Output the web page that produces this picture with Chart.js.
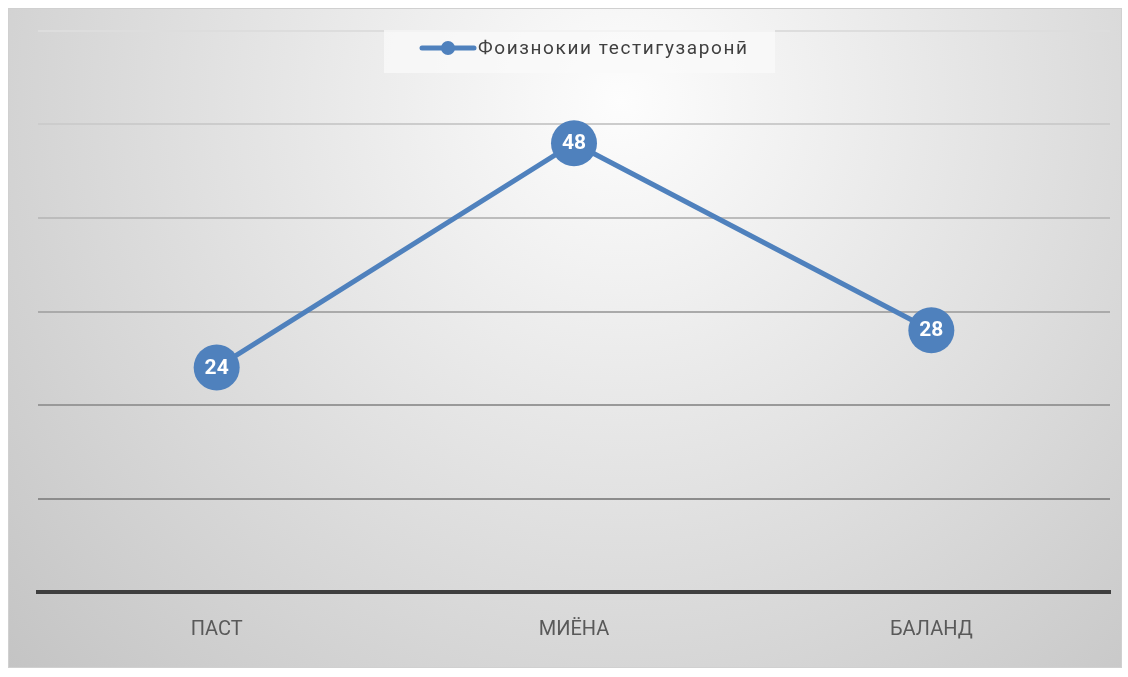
<!DOCTYPE html>
<html>
<head>
<meta charset="utf-8">
<script src="https://cdn.jsdelivr.net/npm/chart.js@4.4.1/dist/chart.umd.min.js"></script>
<style>
  html, body { margin: 0; padding: 0; background: #fff; }
  #wrap {
    position: absolute; left: 8px; top: 8px; width: 1114px; height: 660px;
    background: radial-gradient(circle farthest-corner at 55% 14%, #fdfdfd 0%, #c4c4c4 100%);
    border: 1px solid #d0d0d0; box-sizing: border-box;
  }
  #lineChart { position: absolute; left: -1px; top: -1px; }
</style>
</head>
<body>
<div id="wrap"><canvas id="lineChart" width="1114" height="660"></canvas></div>
<script>
const categories = ['ПАСТ', 'МИЁНА', 'БАЛАНД'];
const seriesName = 'Фоизнокии тестигузаронӣ';
const seriesValues = [24, 48, 28];
const gridColors = ['#3f3f3f', '#8c8c8c', '#999999', '#aaaaaa', '#bcbcbc', '#cccccc', '#dddddd'];

const blue = '#4f81bd';
const font = '"Roboto", sans-serif';

// point labels + legend drawn on the canvas
const extras = {
  id: 'extras',
  afterDatasetsDraw(chart) {
    const ctx = chart.ctx;
    const meta = chart.getDatasetMeta(0);
    ctx.save();
    ctx.fillStyle = '#ffffff';
    ctx.font = 'bold 21px ' + font;
    ctx.textAlign = 'center';
    ctx.textBaseline = 'middle';
    meta.data.forEach((pt, i) => {
      ctx.fillText(String(seriesValues[i]), pt.x, pt.y + 1);
    });

    // legend
    ctx.fillStyle = 'rgba(250,250,250,0.75)';
    ctx.fillRect(376, 22, 391, 43);
    ctx.strokeStyle = blue;
    ctx.lineWidth = 5;
    ctx.lineCap = 'round';
    ctx.beginPath();
    ctx.moveTo(414, 40);
    ctx.lineTo(466, 40);
    ctx.stroke();
    ctx.fillStyle = blue;
    ctx.beginPath();
    ctx.arc(440, 40, 7, 0, Math.PI * 2);
    ctx.fill();
    ctx.font = '19px ' + font;
    ctx.textAlign = 'left';
    ctx.letterSpacing = '1.6px';
    ctx.fillStyle = '#404040';
    ctx.fillText(seriesName, 470, 41);
    ctx.restore();
  }
};

new Chart(document.getElementById('lineChart'), {
  type: 'line',
  data: {
    labels: categories,
    datasets: [{
      label: seriesName,
      data: seriesValues,
      borderColor: blue,
      backgroundColor: blue,
      borderWidth: 5,
      pointRadius: 23,
      pointHoverRadius: 23,
      pointBorderWidth: 0,
      tension: 0
    }]
  },
  options: {
    responsive: false,
    animation: false,
    layout: { autoPadding: false, padding: { left: 30, right: 12, top: 23, bottom: 8 } },
    plugins: {
      legend: { display: false },
      tooltip: { enabled: false }
    },
    scales: {
      x: {
        offset: true,
        grid: { display: false },
        border: { color: '#3f3f3f', width: 4 },
        ticks: { color: '#595959', font: { family: font, size: 20 }, padding: 18 }
      },
      y: {
        min: 0, max: 60,
        ticks: { stepSize: 10, display: false },
        border: { display: false },
        grid: {
          drawTicks: false,
          lineWidth: 2,
          color: c => gridColors[c.index] || '#cccccc'
        }
      }
    }
  },
  plugins: [extras]
});
</script>
</body>
</html>
